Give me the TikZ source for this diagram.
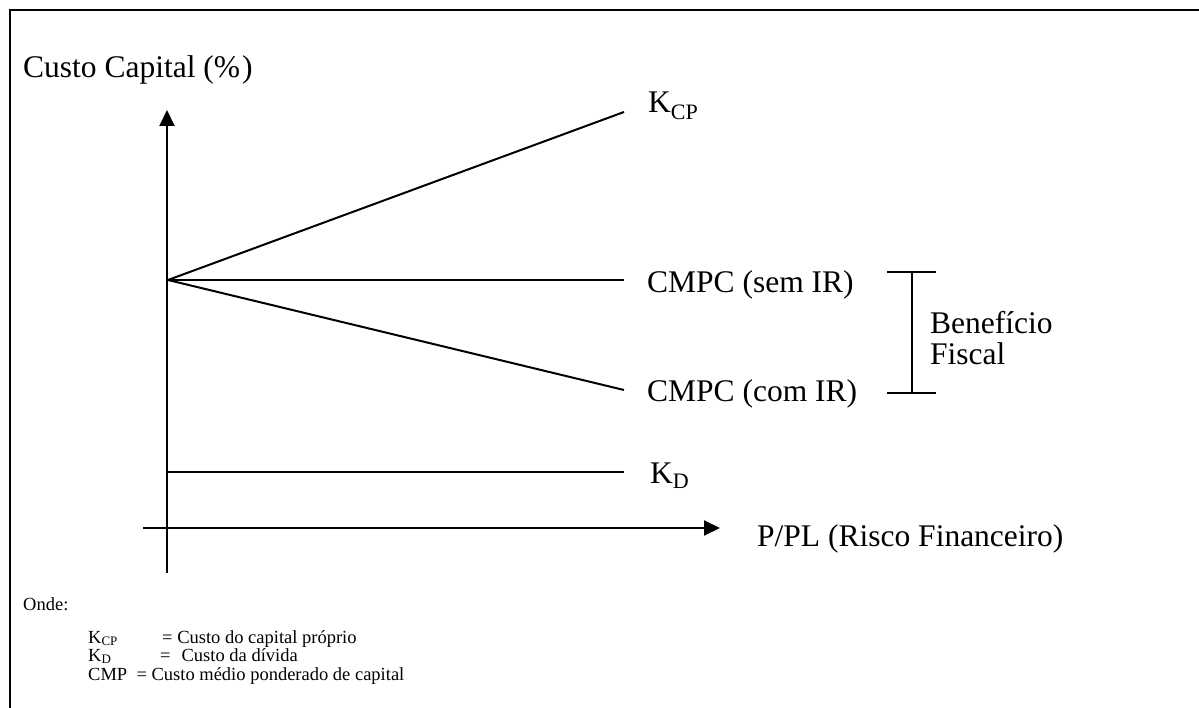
\documentclass[tikz,border=0pt]{standalone}
\usepackage{fontspec}
\setmainfont{Liberation Serif}
\usetikzlibrary{arrows.meta}
\tikzset{
  curve/.style={line width=2pt},
  axis/.style={line width=2pt, -{Triangle[length=16pt,width=15pt]}},
  big/.style={font=\fontsize{31.5}{36}\selectfont, inner sep=0pt, anchor=base west},
  small/.style={font=\fontsize{18.5}{20}\selectfont, inner sep=0pt, anchor=base west}
}
\begin{document}
\begin{tikzpicture}[x=1pt,y=-1pt]
    \useasboundingbox (0,0) rectangle (1199,708);
    % frame
    \draw[line width=2.7pt] (1199,10) -| (10,708);

    % axes
    \coordinate (ybot) at (167,573);
    \coordinate (ytop) at (167,110);
    \coordinate (xleft) at (143,528);
    \coordinate (xright) at (720,528);
    \draw[axis] (ybot) -- (ytop);
    \draw[axis] (xleft) -- (xright);

    % curves
    \coordinate (origin) at (168,280);
    \coordinate (kcpend) at (624,112);
    \coordinate (semend) at (624,280);
    \coordinate (comend) at (624,390);
    \coordinate (kdstart) at (168,472);
    \coordinate (kdend) at (624,472);
    \draw[curve] (origin) -- (kcpend);
    \draw[curve] (origin) -- (semend);
    \draw[curve] (origin) -- (comend);
    \draw[curve] (kdstart) -- (kdend);

    % tax benefit bracket
    \coordinate (brtop) at (912,272);
    \coordinate (brbot) at (912,393);
    \draw[curve] ([xshift=-25pt]brtop) -- ([xshift=24pt]brtop);
    \draw[curve] ([xshift=-25pt]brbot) -- ([xshift=24pt]brbot);
    \draw[curve] (brtop) -- (brbot);

    % labels
    \node[big] (ytitle) at (23,78) {Custo Capital (\%\hspace{2pt})};
    \node[big] (kcplbl) at (648,113) {K\textsubscript{CP}};
    \node[big] (semlbl) at (647,293) {CMPC (sem IR)};
    \node[big] (comlbl) at (647,401) {CMPC (com IR)};
    \node[big] (kdlbl) at (650,483) {K\textsubscript{D}};
    \node[big, font=\fontsize{31.5}{31}\selectfont, align=left] (benef) at (930,364) {Benefício\\Fiscal};
    \node[big] (xtitle) at (757,546) {P/PL (Risco Financeiro)};

    % legend
    \node[small] (onde) at (23,610) {Onde:};
    \node[small] (kcpsym) at (88,643) {K\textsubscript{CP}};
    \node[small] (kcpdef) at (162,643) {= Custo do capital próprio};
    \node[small] (kdsym) at (88,661) {K\textsubscript{D}};
    \node[small] (kddef) at (160,661) {=\hspace{11pt}Custo da dívida};
    \node[small] (cmpdef) at (88,680) {CMP\ \ = Custo médio ponderado de capital};
\end{tikzpicture}
\end{document}
